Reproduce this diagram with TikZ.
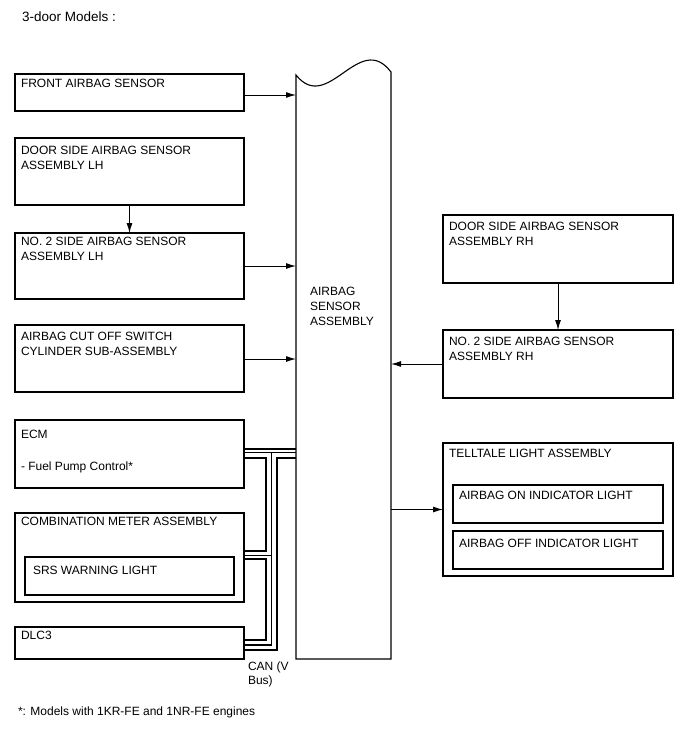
\documentclass[tikz,border=0pt]{standalone}
\usepackage{fontspec}
\setmainfont{Liberation Sans}
\usetikzlibrary{arrows.meta}
\begin{document}
\begin{tikzpicture}[x=1pt,y=-1pt,
  box/.style={draw, line width=1.1pt, inner sep=0pt, outer sep=0pt, anchor=north west},
  lbl/.style={anchor=north west, inner sep=0pt, outer sep=0pt, align=left, font=\fontsize{12}{14.6}\selectfont},
  arr/.style={line width=1pt, -{Latex[length=10pt,width=6pt]}},
  canthin/.style={line width=1.4pt},
  canthick/.style={line width=2.8pt},
]
\fill[white] (0,0) rectangle (688,755);
\useasboundingbox (0,0) rectangle (688,755);

\node[lbl, font=\fontsize{13.5}{16}\selectfont] (title) at (22,12) {3-door Models :};

% left boxes
\node[box, minimum width=229pt, minimum height=37pt] (fas) at (15,74) {};
\node[lbl] (fasl) at (21,79.5) {FRONT AIRBAG SENSOR};
\node[box, minimum width=229pt, minimum height=67pt] (dsl) at (15,138) {};
\node[lbl] (dsll) at (21,146.5) {DOOR SIDE AIRBAG SENSOR\\ASSEMBLY LH};
\node[box, minimum width=229pt, minimum height=66pt] (n2l) at (15,233) {};
\node[lbl] (n2ll) at (21,237.5) {NO. 2 SIDE AIRBAG SENSOR\\ASSEMBLY LH};
\node[box, minimum width=229pt, minimum height=67pt] (cut) at (15,325) {};
\node[lbl] (cutl) at (21,332.5) {AIRBAG CUT OFF SWITCH\\CYLINDER SUB-ASSEMBLY};
\node[box, minimum width=229pt, minimum height=68pt] (ecm) at (15,420) {};
\node[lbl] (ecml) at (21,430.5) {ECM};
\node[lbl] (fuell) at (21,461.5) {- Fuel Pump Control*};
\node[box, minimum width=229pt, minimum height=89pt] (cmb) at (15,513) {};
\node[lbl] (cmbl) at (21,517.5) {COMBINATION METER ASSEMBLY};
\node[box, minimum width=209pt, minimum height=38pt] (srs) at (25,557) {};
\node[lbl] (srsl) at (33,566.5) {SRS WARNING LIGHT};
\node[box, minimum width=229pt, minimum height=32pt] (dlc) at (15,627) {};
\node[lbl] (dlcl) at (21,631.5) {DLC3};

% right boxes
\node[box, minimum width=230pt, minimum height=68pt] (dsr) at (443,215) {};
\node[lbl] (dsrl) at (449,222.5) {DOOR SIDE AIRBAG SENSOR\\ASSEMBLY RH};
\node[box, minimum width=230pt, minimum height=68pt] (n2r) at (443,330) {};
\node[lbl] (n2rl) at (449,337.5) {NO. 2 SIDE AIRBAG SENSOR\\ASSEMBLY RH};
\node[box, minimum width=230pt, minimum height=133pt] (tel) at (443,443) {};
\node[lbl] (tell) at (449,449.5) {TELLTALE LIGHT ASSEMBLY};
\node[box, minimum width=210pt, minimum height=38pt] (aon) at (453,485) {};
\node[lbl] (aonl) at (459,491.5) {AIRBAG ON INDICATOR LIGHT};
\node[box, minimum width=210pt, minimum height=38pt] (aof) at (453,531) {};
\node[lbl] (aofl) at (459,539.5) {AIRBAG OFF INDICATOR LIGHT};

% airbag sensor assembly
\node[anchor=north west, inner sep=0pt, outer sep=0pt, minimum width=95pt, minimum height=572pt] (asm) at (296,87) {};
\draw[line width=1.1pt] (asm.south west) -- (296,75) .. controls (328,115) and (359,30) .. (391,72) -- (asm.south east) -- cycle;
\node[lbl] (asml) at (310,287.5) {AIRBAG\\SENSOR\\ASSEMBLY};

% arrows
\draw[arr] (fas.east |- 0,95) -- (asm.west |- 0,95);
\draw[arr] (dsl.south) -- (n2l.north);
\draw[arr] (n2l.east) -- (n2l.east -| asm.west);
\draw[arr] (cut.east |- 0,359) -- (asm.west |- 0,359);
\draw[arr] (dsr.south) -- (n2r.north);
\draw[arr] (n2r.west) -- (n2r.west -| asm.east);
\draw[arr] (asm.east |- tel.west) -- (tel.west);

% CAN bus
\coordinate (j1) at (271.5,452.5);
\coordinate (j2) at (266,458);
\coordinate (j3) at (277,458);
\draw[canthin] (ecm.east |- 0,449) -- (asm.west |- 0,449);
\draw[canthin] (ecm.east |- 0,452.5) -- (asm.west |- 0,452.5);
\draw[canthin] (j1) -- (271.5,645) -- (dlc.east |- 0,645);
\draw[canthin] (cmb.east |- 0,555.5) -- (271.5,555.5);
\draw[canthick] (ecm.east |- j2) -- (j2) -- (266,551) -- (cmb.east |- 0,551);
\draw[canthick] (cmb.east |- 0,559) -- (266,559) -- (266,640) -- (dlc.east |- 0,640);
\draw[canthick] (asm.west |- j3) -- (j3) -- (277,650) -- (dlc.east |- 0,650);
\node[lbl] (canl) at (248,661.5) {CAN (V\\Bus)};

\node[lbl] (foot) at (18,706.5) {*: Models with 1KR-FE and 1NR-FE engines};
\end{tikzpicture}
\end{document}
